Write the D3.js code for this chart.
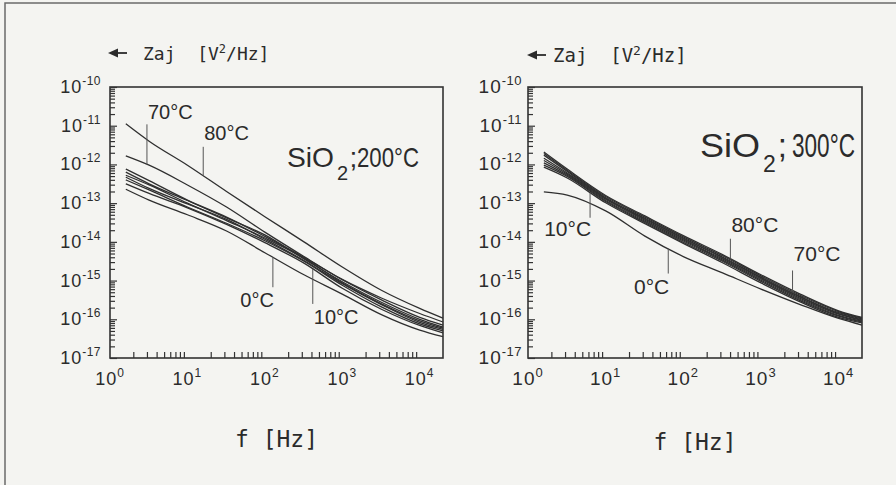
<!DOCTYPE html>
<meta charset="utf-8">
<style>
body { margin: 0; background: #f4f4f1; }
svg { display: block; }
text { font-family: "Liberation Sans", Arial, sans-serif; fill: #2b2b2b; }
.mono { font-family: "DejaVu Sans Mono", monospace; }
.curve { fill: none; stroke: #2f2f2f; stroke-width: 1.3; }
.box { fill: none; stroke: #333; stroke-width: 1.6; }
.tick line { stroke: #333; stroke-width: 1.2; }
.leader { stroke: #555; stroke-width: 1; }
</style>
<svg width="896" height="485"></svg>
<script src="https://d3js.org/d3.v7.min.js"></script>
<script>

var freq = [1.6, 3.2, 10, 32, 100, 320, 1000, 3200, 10000, 20000];

// SiO2, 200 C : noise spectral density [V^2/Hz], one array per measuring temperature
var s200_80 = [1.12e-11, 3.98e-12, 9.55e-13, 2.0e-13, 4.47e-14, 1.0e-14, 2.24e-15, 5.62e-16, 1.91e-16, 1.07e-16];
var s200_70 = [1.66e-12, 9.55e-13, 2.95e-13, 7.94e-14, 1.78e-14, 4.17e-15, 1.07e-15, 3.55e-16, 1.41e-16, 8.51e-17];
var s200_60 = [7.59e-13, 3.80e-13, 1.20e-13, 4.37e-14, 1.38e-14, 3.98e-15, 1.05e-15, 3.16e-16, 1.12e-16, 7.08e-17];
var s200_50 = [6.31e-13, 3.16e-13, 1.17e-13, 4.17e-14, 1.51e-14, 3.63e-15, 9.33e-16, 2.75e-16, 1.0e-16, 6.31e-17];
var s200_40 = [5.25e-13, 2.95e-13, 1.0e-13, 3.55e-14, 1.26e-14, 3.80e-15, 8.71e-16, 2.51e-16, 9.12e-17, 5.89e-17];
var s200_30 = [4.68e-13, 2.40e-13, 9.55e-14, 3.80e-14, 1.17e-14, 3.31e-15, 8.32e-16, 2.40e-16, 8.32e-17, 5.50e-17];
var s200_20 = [3.98e-13, 2.19e-13, 7.94e-14, 3.02e-14, 1.07e-14, 3.16e-15, 7.59e-16, 2.09e-16, 7.59e-17, 5.01e-17];
var s200_10 = [3.16e-13, 1.78e-13, 7.59e-14, 2.82e-14, 9.55e-15, 2.82e-15, 6.31e-16, 1.82e-16, 6.92e-17, 4.47e-17];
var s200_0  = [2.29e-13, 1.20e-13, 5.01e-14, 1.91e-14, 5.25e-15, 1.41e-15, 4.47e-16, 1.32e-16, 5.25e-17, 3.55e-17];

// SiO2, 300 C
var s300_80 = [2.09e-12, 7.59e-13, 1.58e-13, 4.68e-14, 1.45e-14, 4.68e-15, 1.41e-15, 4.47e-16, 1.66e-16, 1.12e-16];
var s300_70 = [1.91e-12, 7.08e-13, 1.48e-13, 4.37e-14, 1.35e-14, 4.37e-15, 1.32e-15, 4.17e-16, 1.58e-16, 1.07e-16];
var s300_60 = [1.74e-12, 6.61e-13, 1.38e-13, 4.07e-14, 1.26e-14, 4.07e-15, 1.23e-15, 3.89e-16, 1.48e-16, 1.02e-16];
var s300_50 = [1.45e-12, 6.03e-13, 1.32e-13, 3.89e-14, 1.20e-14, 3.89e-15, 1.17e-15, 3.72e-16, 1.41e-16, 9.77e-17];
var s300_40 = [1.26e-12, 5.62e-13, 1.26e-13, 3.63e-14, 1.12e-14, 3.63e-15, 1.10e-15, 3.47e-16, 1.35e-16, 9.33e-17];
var s300_30 = [1.10e-12, 5.25e-13, 1.17e-13, 3.39e-14, 1.05e-14, 3.39e-15, 1.02e-15, 3.24e-16, 1.26e-16, 8.91e-17];
var s300_20 = [9.55e-13, 4.90e-13, 1.10e-13, 3.16e-14, 9.77e-15, 3.16e-15, 9.55e-16, 3.02e-16, 1.20e-16, 8.51e-17];
var s300_10 = [8.51e-13, 4.47e-13, 1.02e-13, 2.95e-14, 9.12e-15, 2.88e-15, 8.71e-16, 2.82e-16, 1.12e-16, 8.13e-17];
var s300_0  = [1.95e-13, 1.62e-13, 6.31e-14, 1.41e-14, 4.17e-15, 1.58e-15, 6.03e-16, 2.40e-16, 1.05e-16, 7.08e-17];

// tick labels
var xDecades = [1, 10, 100, 1000, 10000];
var xExp = ["0", "1", "2", "3", "4"];
var yDecades = [1e-10, 1e-11, 1e-12, 1e-13, 1e-14, 1e-15, 1e-16, 1e-17];
var yExp = ["-10", "-11", "-12", "-13", "-14", "-15", "-16", "-17"];

var series200 = [
  {t: "80", v: s200_80}, {t: "70", v: s200_70}, {t: "60", v: s200_60},
  {t: "50", v: s200_50}, {t: "40", v: s200_40}, {t: "30", v: s200_30},
  {t: "20", v: s200_20}, {t: "10", v: s200_10}, {t: "0", v: s200_0}
];
var series300 = [
  {t: "80", v: s300_80}, {t: "70", v: s300_70}, {t: "60", v: s300_60},
  {t: "50", v: s300_50}, {t: "40", v: s300_40}, {t: "30", v: s300_30},
  {t: "20", v: s300_20}, {t: "10", v: s300_10}, {t: "0", v: s300_0}
];

// labelled curves: which temperature, at what frequency the leader touches it
var notes200 = [
  {t: "70", f: 3.0, len: 40, dir: -1, anchor: "start", dy: -5},
  {t: "80", f: 16, len: 29, dir: -1, anchor: "start", dy: -7},
  {t: "0", f: 127, len: 30, dir: 1, anchor: "end", dy: 20},
  {t: "10", f: 416, len: 35, dir: 1, anchor: "start", dy: 20}
];
var notes300 = [
  {t: "10", f: 6.3, len: 25, dir: 1, anchor: "end", dy: 18},
  {t: "0", f: 64, len: 25, dir: 1, anchor: "end", dy: 20},
  {t: "80", f: 404, len: 20, dir: -1, anchor: "start", dy: -7},
  {t: "70", f: 2550, len: 21, dir: -1, anchor: "start", dy: -9}
];

var svg = d3.select("svg");

// outer frame of the figure (only top and left edge are inside the picture)
svg.append("path")
  .attr("d", "M5,490V3H900")
  .attr("fill", "none")
  .attr("stroke", "#6a6a6a")
  .attr("stroke-width", 1.5);

var panels = [
  {left: 110, right: 443, top: 87, bottom: 358, series: series200, notes: notes200,
   temp: "200\u00b0C", subX: 287, subY: 167, subSize: 28, sioLen: 47, tempX: 357, tempLen: 62,
   arrowX: 108, titleX: 143, titleY: 60, titleSize: 18, fY: 447, ylabGap: 9, tickFont: 18, noteFont: 20},
  {left: 528, right: 862, top: 87, bottom: 358, series: series300, notes: notes300,
   temp: "300\u00b0C", subX: 700, subY: 157, subSize: 33, sioLen: 60, tempX: 792, tempLen: 63,
   arrowX: 527, titleX: 553, titleY: 62, titleSize: 19, fY: 450, ylabGap: 6, tickFont: 19, noteFont: 21}
];

function valueAt(vals, f) {
  var lf = Math.log10(f);
  for (var i = 0; i < freq.length - 1; i++) {
    var a = Math.log10(freq[i]), b = Math.log10(freq[i + 1]);
    if (lf >= a && lf <= b) {
      var k = (lf - a) / (b - a);
      return Math.pow(10, Math.log10(vals[i]) * (1 - k) + Math.log10(vals[i + 1]) * k);
    }
  }
  return vals[vals.length - 1];
}

panels.forEach(function(p) {
  var x = d3.scaleLog().domain([1, 2e4]).range([p.left, p.right]);
  var y = d3.scaleLog().domain([1e-17, 1e-10]).range([p.bottom, p.top]);
  var g = svg.append("g");

  // minor ticks 2..9 of every decade
  var xMinor = [], yMinor = [];
  xDecades.slice(0, 4).forEach(function(d) { for (var k = 2; k <= 9; k++) xMinor.push(k * d); });
  yDecades.slice(1).forEach(function(d) { for (var k = 2; k <= 9; k++) yMinor.push(k * d); });

  g.append("g").attr("transform", "translate(0," + p.bottom + ")")
    .call(d3.axisBottom(x).tickValues(xMinor).tickSize(-6).tickFormat(""))
    .call(function(a) { a.select(".domain").remove(); });

  g.append("g").attr("transform", "translate(" + p.left + ",0)")
    .call(d3.axisLeft(y).tickValues(yMinor).tickSize(-5).tickFormat(""))
    .call(function(a) { a.select(".domain").remove(); });

  g.append("g").attr("transform", "translate(" + p.left + ",0)")
    .call(d3.axisLeft(y).tickValues(yDecades).tickSize(-7).tickFormat(""))
    .call(function(a) { a.select(".domain").remove(); });

  // curves
  var line = d3.line()
    .x(function(d) { return x(d[0]); })
    .y(function(d) { return y(d[1]); })
    .curve(d3.curveMonotoneX);

  g.selectAll(".curve").data(p.series).enter().append("path")
    .attr("class", "curve")
    .attr("d", function(s) { return line(freq.map(function(f, i) { return [f, s.v[i]]; })); });

  g.append("rect").attr("class", "box")
    .attr("x", p.left).attr("y", p.top)
    .attr("width", p.right - p.left).attr("height", p.bottom - p.top);

  // y tick labels 10^-n
  yDecades.forEach(function(d, i) {
    var t = g.append("text")
      .attr("x", p.left - p.ylabGap).attr("y", y(d) + 6)
      .attr("text-anchor", "end").attr("font-size", p.tickFont)
      .attr("letter-spacing", 1)
      .text("10");
    t.append("tspan").attr("dy", -8).attr("font-size", p.tickFont - 6)
      .attr("letter-spacing", 0.5).text(yExp[i]);
  });

  // x tick labels 10^n
  xDecades.forEach(function(d, i) {
    var t = g.append("text")
      .attr("x", x(d)).attr("y", 385)
      .attr("text-anchor", "middle").attr("font-size", p.tickFont)
      .attr("letter-spacing", 1)
      .text("10");
    t.append("tspan").attr("dy", -8).attr("font-size", p.tickFont - 6).text(xExp[i]);
  });

  // y axis title with arrow
  var ay = p.titleY - 7;
  g.append("path")
    .attr("d", "M" + p.arrowX + "," + ay + "l10,-4.5v9z")
    .attr("fill", "#2b2b2b");
  g.append("line")
    .attr("x1", p.arrowX + 6).attr("x2", p.arrowX + 19)
    .attr("y1", ay).attr("y2", ay)
    .attr("stroke", "#2b2b2b").attr("stroke-width", 1.8);
  var tt = g.append("text").attr("class", "mono")
    .attr("x", p.titleX).attr("y", p.titleY)
    .attr("font-size", p.titleSize)
    .text("Zaj\u00a0\u00a0[V");
  tt.append("tspan").attr("dy", -7).attr("font-size", p.titleSize - 6).text("2");
  tt.append("tspan").attr("dy", 7).text("/Hz]");

  // x axis title
  g.append("text").attr("class", "mono")
    .attr("x", (p.left + p.right) / 2).attr("y", p.fY)
    .attr("text-anchor", "middle").attr("font-size", 23)
    .text("f\u00a0[Hz]");

  // SiO2 label, pieces placed one after another
  g.append("text")
    .attr("x", p.subX).attr("y", p.subY)
    .attr("font-size", p.subSize)
    .attr("textLength", p.sioLen).attr("lengthAdjust", "spacingAndGlyphs")
    .text("SiO");
  g.append("text")
    .attr("x", p.subX + p.sioLen + 3).attr("y", p.subY + p.subSize * 0.45)
    .attr("font-size", Math.round(p.subSize * 0.7))
    .text("2");
  g.append("text")
    .attr("x", p.subX + p.sioLen + 3 + p.subSize * 0.45).attr("y", p.subY)
    .attr("font-size", p.subSize)
    .text(";");
  g.append("text")
    .attr("x", p.tempX).attr("y", p.subY)
    .attr("font-size", p.subSize)
    .attr("textLength", p.tempLen).attr("lengthAdjust", "spacingAndGlyphs")
    .text(p.temp);

  // temperature labels with leader lines
  p.notes.forEach(function(n) {
    var s = p.series.filter(function(d) { return d.t === n.t; })[0];
    var lx = x(n.f), y1 = y(valueAt(s.v, n.f)), y2 = y1 + n.dir * n.len;
    g.append("line").attr("class", "leader")
      .attr("x1", lx).attr("x2", lx).attr("y1", y1).attr("y2", y2);
    g.append("text")
      .attr("x", lx + 1).attr("y", y2 + n.dy)
      .attr("text-anchor", n.anchor).attr("font-size", p.noteFont)
      .text(n.t + "\u00b0C");
  });
});

</script>
